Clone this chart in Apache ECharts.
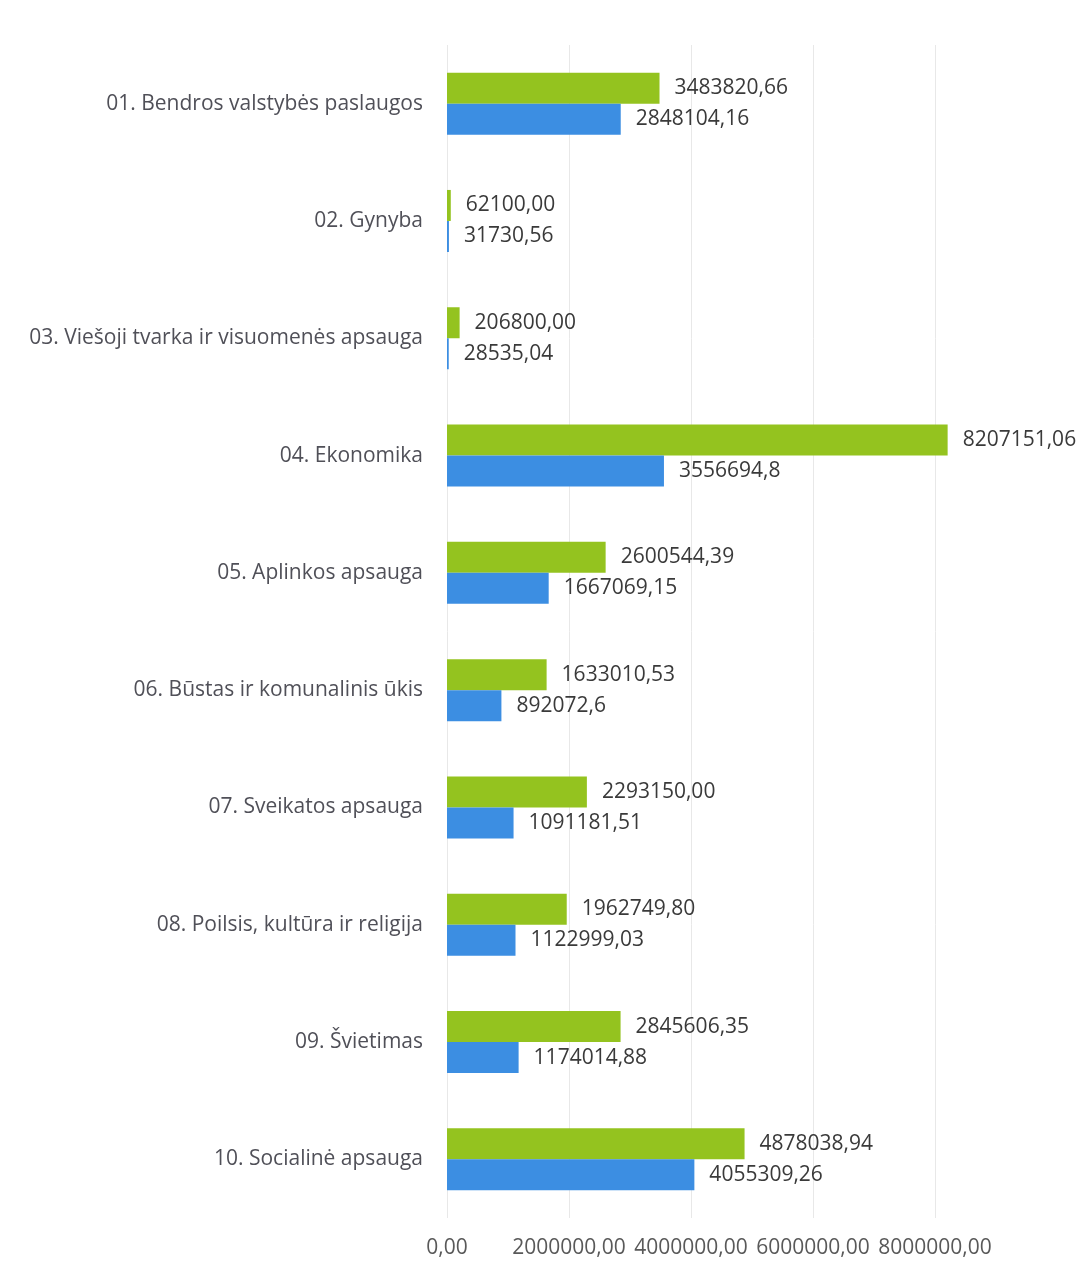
<!DOCTYPE html>
<html>
<head>
<meta charset="utf-8">
<script src="https://cdn.jsdelivr.net/npm/echarts@6/dist/echarts.min.js"></script>
<style>
  html, body { margin: 0; padding: 0; background: #fff; }
  #chart { width: 1077px; height: 1274px; }
</style>
</head>
<body>
<div id="chart"></div>
<script>
// kategorijos (iš viršaus į apačią)
var categories = [
  '01. Bendros valstybės paslaugos',
  '02. Gynyba',
  '03. Viešoji tvarka ir visuomenės apsauga',
  '04. Ekonomika',
  '05. Aplinkos apsauga',
  '06. Būstas ir komunalinis ūkis',
  '07. Sveikatos apsauga',
  '08. Poilsis, kultūra ir religija',
  '09. Švietimas',
  '10. Socialinė apsauga'
];
// žalia serija - reikšmės kaip parašyta paveikslėlyje
var greenText = ['3483820,66', '62100,00', '206800,00', '8207151,06', '2600544,39',
  '1633010,53', '2293150,00', '1962749,80', '2845606,35', '4878038,94'];
// mėlyna serija
var blueText = ['2848104,16', '31730,56', '28535,04', '3556694,8', '1667069,15',
  '892072,6', '1091181,51', '1122999,03', '1174014,88', '4055309,26'];
// x ašies žingsnis ir riba
var axisMax = 8000000;
var axisStep = 2000000;

function toNum(s) { return parseFloat(s.replace(',', '.')); }
function toData(arr) {
  return arr.map(function (s) { return { value: toNum(s), txt: s }; });
}

var chart = echarts.init(document.getElementById('chart'));
var font = '"Open Sans", "Noto Sans", sans-serif';

var option = {
  backgroundColor: '#fff',
  animation: false,
  grid: { left: 447, right: 142, top: 45, bottom: 56 },
  xAxis: {
    type: 'value',
    min: 0,
    max: axisMax,
    interval: axisStep,
    axisLine: { show: false },
    axisTick: { show: false },
    splitLine: { lineStyle: { color: '#e8e8e8', width: 1 } },
    axisLabel: {
      color: '#595959',
      fontSize: 21,
      fontFamily: font,
      margin: 20,
      formatter: function (v) { return v.toFixed(2).replace('.', ','); }
    }
  },
  yAxis: {
    type: 'category',
    data: categories,
    inverse: true,
    axisLine: { show: false },
    axisTick: { show: false },
    splitLine: { show: false },
    axisLabel: { color: '#505058', fontSize: 21, fontFamily: font, margin: 24 }
  },
  series: [
    {
      name: 'green',
      type: 'bar',
      data: toData(greenText),
      barWidth: 31,
      barGap: '0%',
      clip: false,
      itemStyle: { color: '#94c31f' },
      label: {
        show: true, position: 'right', distance: 15,
        color: '#3a3a3a', fontSize: 21, fontFamily: font,
        formatter: function (p) { return p.data.txt; }
      }
    },
    {
      name: 'blue',
      type: 'bar',
      data: toData(blueText),
      barWidth: 31,
      barGap: '0%',
      clip: false,
      itemStyle: { color: '#3c8ee2' },
      label: {
        show: true, position: 'right', distance: 15,
        color: '#3a3a3a', fontSize: 21, fontFamily: font,
        formatter: function (p) { return p.data.txt; }
      }
    }
  ]
};

chart.setOption(option);
</script>
</body>
</html>
